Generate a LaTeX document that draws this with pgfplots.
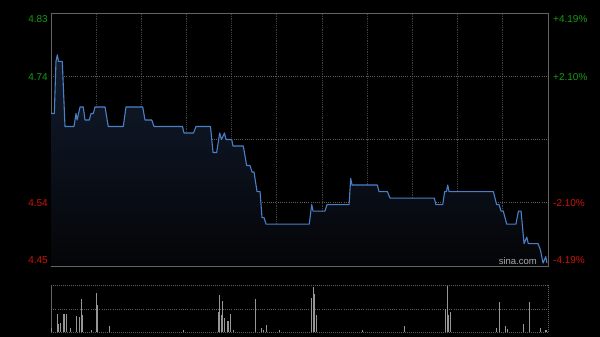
\documentclass[border=0pt]{standalone}
\usepackage{pgfplots}
\pgfplotsset{compat=1.18}
\usepackage{fontspec}
\setmainfont{Liberation Sans}
\definecolor{lineblue}{RGB}{74,128,200}
\definecolor{filltop}{RGB}{18,28,46}
\definecolor{fillbot}{RGB}{4,5,8}
\definecolor{framegray}{RGB}{100,100,100}
\definecolor{gridh}{RGB}{95,95,95}
\definecolor{gridv}{RGB}{65,65,65}
\definecolor{volgray}{RGB}{150,150,150}
\definecolor{pgreen}{RGB}{20,155,20}
\definecolor{pred}{RGB}{205,20,10}
\begin{document}
\begin{tikzpicture}[x=1pt,y=1pt]
\fill[black] (0pt,0pt) rectangle (600pt,337pt);
\begin{axis}[at={(51pt,71pt)}, anchor=south west, width=497pt, height=253pt, scale only axis,
  xmin=0, xmax=330, ymin=4.4456, ymax=4.8344,
  xtick={30,60,...,300}, ytick={4.5428,4.7372},
  xticklabels={}, yticklabels={}, major tick length=0pt,
  xmajorgrids, ymajorgrids,
  x grid style={draw=gridv, line width=0.9pt, dash pattern=on 1.2pt off 1pt},
  y grid style={draw=gridh, line width=0.7pt, dash pattern=on 1pt off 1.2pt},
  extra y ticks={4.64}, extra y tick labels={},
  extra y tick style={ymajorgrids, major grid style={draw=gridh, line width=0.8pt, dash pattern=on 3pt off 1.5pt on 1pt off 1.5pt}},
  axis line style={draw=framegray, line width=0.9pt},
  axis background/.style={fill=black}]
\addplot[draw=none, top color=filltop, bottom color=fillbot] coordinates {
(0,4.4456)(0,4.68)(2.2,4.68)(3.3,4.76)(4.2,4.77)(5,4.76)(7.5,4.76)(9.3,4.66)(15.3,4.66)(16.6,4.68)(17.3,4.67)(19.3,4.69)(21.4,4.69)(22.6,4.67)(25.4,4.67)(26.6,4.68)(28.1,4.68)(29.2,4.69)(35.9,4.69)(38,4.66)(48,4.66)(49.8,4.69)(60.9,4.69)(62.4,4.67)(66.9,4.67)(68.4,4.66)(87.3,4.66)(88.3,4.65)(94.6,4.65)(96.3,4.66)(105.9,4.66)(107.6,4.62)(110,4.62)(112,4.65)(113.2,4.64)(115.2,4.65)(116.2,4.64)(120,4.64)(120.8,4.63)(127.7,4.63)(129.9,4.60)(132.1,4.60)(133.5,4.59)(134.8,4.59)(136.8,4.56)(138.8,4.56)(140.1,4.52)(141.4,4.52)(142.8,4.51)(171.5,4.51)(173.1,4.54)(174,4.53)(181.9,4.53)(183.3,4.54)(197.9,4.54)(199,4.58)(199.9,4.57)(216.7,4.57)(217.8,4.56)(223.3,4.56)(225.1,4.55)(254.5,4.55)(255.6,4.54)(260.1,4.54)(261.4,4.56)(262.6,4.56)(263.4,4.57)(264.3,4.56)(293.7,4.56)(295.9,4.54)(297.5,4.54)(298.8,4.53)(300.3,4.53)(302.6,4.51)(308.7,4.51)(310.4,4.53)(312.1,4.53)(314.1,4.48)(315.9,4.49)(316.9,4.48)(323.4,4.48)(325,4.47)(326.7,4.45)(328.5,4.46)(329.3,4.45)(329.3,4.4456)};
\addplot[draw=lineblue, line width=1.1pt, line join=round, mark=none] coordinates {
(0,4.68)(2.2,4.68)(3.3,4.76)(4.2,4.77)(5,4.76)(7.5,4.76)(9.3,4.66)(15.3,4.66)(16.6,4.68)(17.3,4.67)(19.3,4.69)(21.4,4.69)(22.6,4.67)(25.4,4.67)(26.6,4.68)(28.1,4.68)(29.2,4.69)(35.9,4.69)(38,4.66)(48,4.66)(49.8,4.69)(60.9,4.69)(62.4,4.67)(66.9,4.67)(68.4,4.66)(87.3,4.66)(88.3,4.65)(94.6,4.65)(96.3,4.66)(105.9,4.66)(107.6,4.62)(110,4.62)(112,4.65)(113.2,4.64)(115.2,4.65)(116.2,4.64)(120,4.64)(120.8,4.63)(127.7,4.63)(129.9,4.60)(132.1,4.60)(133.5,4.59)(134.8,4.59)(136.8,4.56)(138.8,4.56)(140.1,4.52)(141.4,4.52)(142.8,4.51)(171.5,4.51)(173.1,4.54)(174,4.53)(181.9,4.53)(183.3,4.54)(197.9,4.54)(199,4.58)(199.9,4.57)(216.7,4.57)(217.8,4.56)(223.3,4.56)(225.1,4.55)(254.5,4.55)(255.6,4.54)(260.1,4.54)(261.4,4.56)(262.6,4.56)(263.4,4.57)(264.3,4.56)(293.7,4.56)(295.9,4.54)(297.5,4.54)(298.8,4.53)(300.3,4.53)(302.6,4.51)(308.7,4.51)(310.4,4.53)(312.1,4.53)(314.1,4.48)(315.9,4.49)(316.9,4.48)(323.4,4.48)(325,4.47)(326.7,4.45)(328.5,4.46)(329.3,4.45)};
\end{axis}
\begin{axis}[at={(51pt,4.7pt)}, anchor=south west, width=497pt, height=46.6pt, scale only axis,
  xmin=0, xmax=330, ymin=0, ymax=1, clip=false,
  axis line style={draw=none}, xtick=\empty, ytick=\empty]
\draw[draw=gridh, line width=0.8pt, dash pattern=on 1pt off 1pt] (rel axis cs:0,1) -- (rel axis cs:1,1) -- (rel axis cs:1,0) -- (rel axis cs:0,0);
\draw[draw=gridh, line width=0.7pt, dash pattern=on 1pt off 1.2pt] (rel axis cs:0,0.5) -- (rel axis cs:1,0.5);
\draw[draw=framegray, line width=0.9pt] (rel axis cs:0,0) -- (rel axis cs:0,1);
\addplot[ycomb, draw=volgray, line width=0.9pt, mark=none] coordinates {
(0,0.09)(4,0.39)(5,0.18)(6,0.21)(8,0.39)(9,0.39)(10,0.39)(13,0.10)(17,0.36)(19,0.33)(20,0.71)(21,0.37)(27,0.05)(30,0.85)(31,0.59)(39,0.13)(88,0.05)(111,0.44)(112,0.79)(113,0.37)(114,0.67)(115,0.31)(117,0.25)(118,0.25)(119,0.39)(121,0.06)(136,0.71)(140,0.09)(141,0.05)(143,0.16)(152,0.06)(173,0.73)(174,0.97)(175,0.82)(176,0.37)(207,0.05)(235,0.13)(262,0.51)(263,1.0)(264,0.37)(265,0.44)(296,0.09)(298,0.64)(302,0.13)(303,0.07)(314,0.18)(318,0.64)(325,0.10)(328,0.05)(329,0.06)};
\end{axis}
\begin{scope}[every node/.style={inner sep=0pt, font=\fontsize{10}{12}\selectfont}]
\node[anchor=east, text=pgreen] at (48pt,318pt) {4.83};
\node[anchor=east, text=pgreen] at (48pt,260pt) {4.74};
\node[anchor=east, text=pred] at (48pt,134pt) {4.54};
\node[anchor=east, text=pred] at (48pt,77pt) {4.45};
\node[anchor=west, text=pgreen] at (553pt,318pt) {+4.19\%};
\node[anchor=west, text=pgreen] at (553pt,260pt) {+2.10\%};
\node[anchor=west, text=pred] at (553pt,134pt) {-2.10\%};
\node[anchor=west, text=pred] at (553pt,77pt) {-4.19\%};
\node[anchor=base east, text={rgb,255:red,170;green,170;blue,170}, font=\fontsize{9.5}{11}\selectfont] at (537pt,72pt) {sina.com};
\end{scope}
\end{tikzpicture}
\end{document}
